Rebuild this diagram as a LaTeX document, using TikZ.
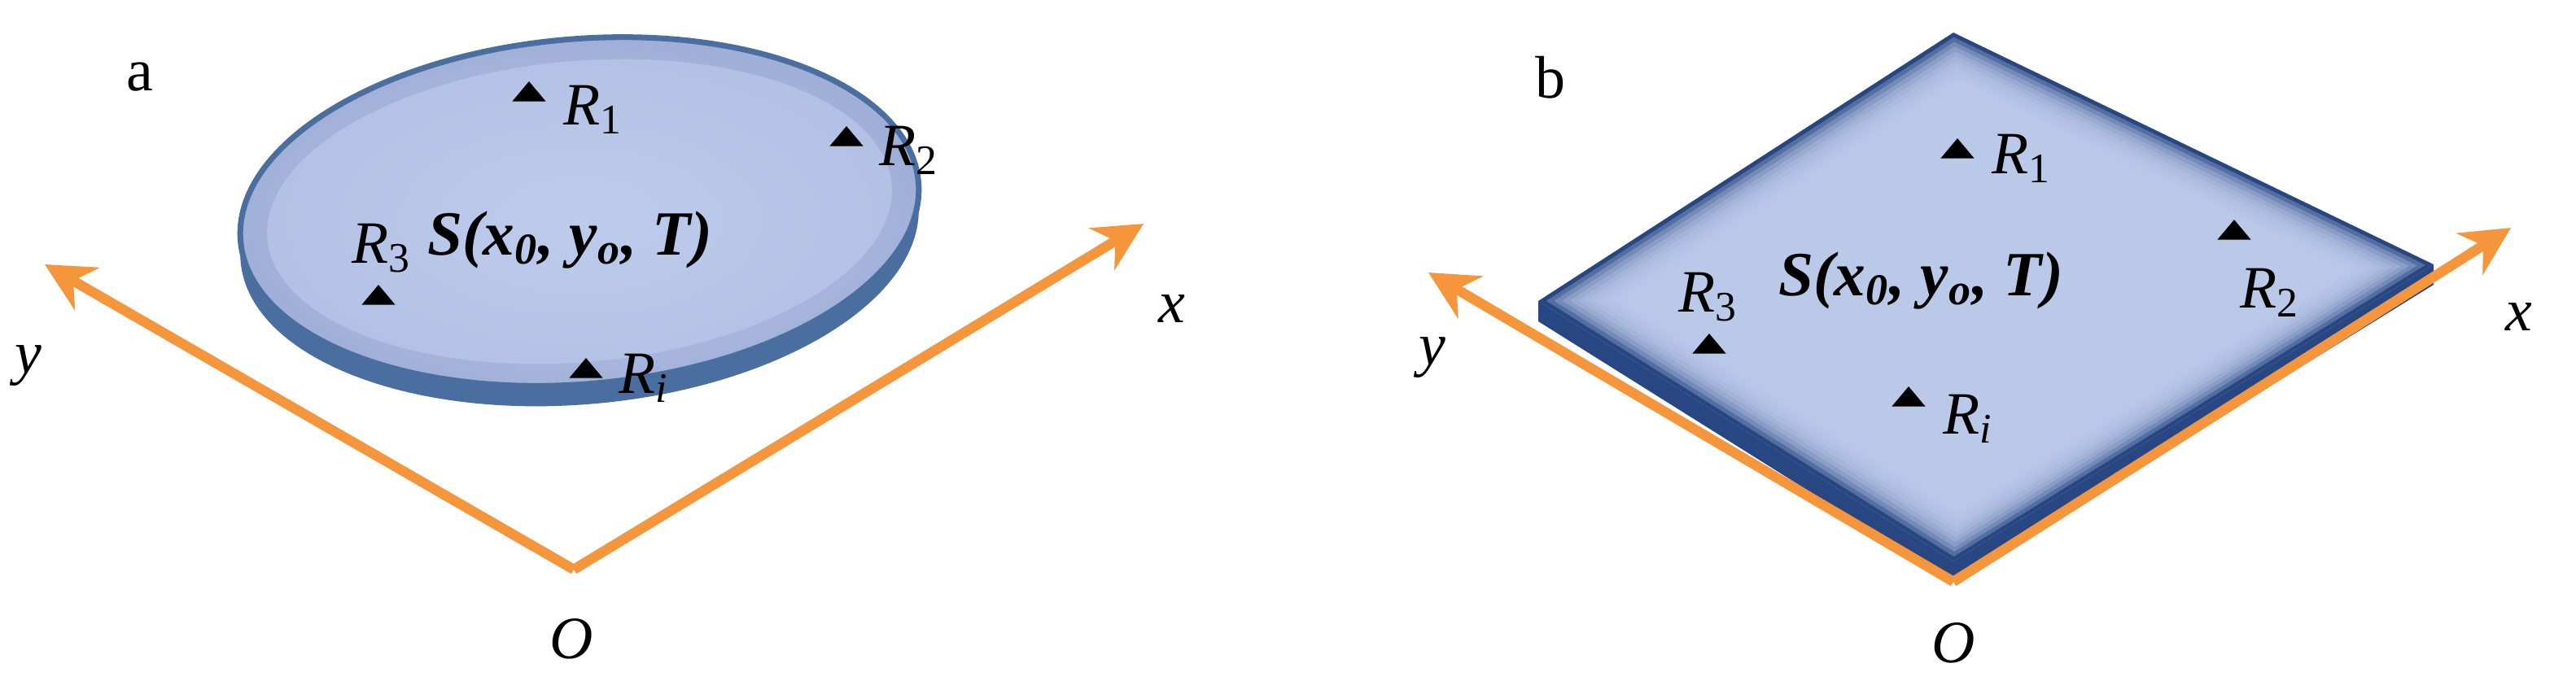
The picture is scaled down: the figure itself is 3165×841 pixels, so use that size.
\documentclass[tikz,border=0pt]{standalone}
\usepackage{fontspec}
\setmainfont{Liberation Serif}
\usetikzlibrary{arrows.meta,shapes.geometric,calc}
\begin{document}
\begin{tikzpicture}[x=0.01cm,y=-0.01cm,
  ax/.style={draw={rgb,255:red,245;green,150;blue,60},line width=3.5pt,-{Stealth[length=17pt,width=17pt]}},
  lab/.style={font=\fontsize{21}{21}\selectfont\itshape},
  tri/.style={fill=black,isosceles triangle,isosceles triangle apex angle=80,shape border rotate=90,minimum width=11pt,minimum height=7pt,inner sep=0pt},
  rl/.style={font=\fontsize{21}{21}\selectfont\itshape,anchor=west},
  sl/.style={font=\fontsize{22}{22}\selectfont\bfseries\itshape}]
\useasboundingbox (0,0) rectangle (3165,841);
\definecolor{face}{RGB}{190,204,236}
\definecolor{rim}{RGB}{75,110,160}
\definecolor{dark}{RGB}{40,70,130}
% ---- panel a
\coordinate (Oa) at (705,700);
\coordinate (ya) at (55,325);
\coordinate (xa) at (1405,275);
\draw[ax] (Oa) -- (ya);
\draw[ax] (Oa) -- (xa);
\fill[rim,rotate around={5:(712,285)}] (712,285) ellipse (418 and 212);
\shade[inner color=face,outer color={rgb,255:red,160;green,175;blue,215},rotate around={5:(712,260)},draw=rim,line width=2pt] (712,260) ellipse (418 and 212);
\fill[face,opacity=0.6,rotate around={5:(712,260)}] (712,260) ellipse (385 and 185);
\node[lab] (la) at (172,95) {\upshape a};
\node[lab] (lya) at (35,450) {y};
\node[lab] (lxa) at (1440,380) {x};
\node[lab] (loa) at (702,785) {O};
\node[tri] (t1a) at (650,115) {}; \node[rl] at (680,135) {R\textsubscript{\upshape 1}};
\node[tri] (t2a) at (1040,170) {}; \node[rl] at (1068,185) {R\textsubscript{\upshape 2}};
\node[tri] (t3a) at (465,365) {}; \node[rl] at (420,305) {R\textsubscript{\upshape 3}};
\node[tri] (tia) at (720,455) {}; \node[rl] at (748,465) {R\textsubscript{i}};
\node[sl] (sa) at (700,295) {S(x\textsubscript{0}, y\textsubscript{o}, T)};
% ---- panel b
\coordinate (Ob) at (2400,715);
\coordinate (yb) at (1755,335);
\coordinate (xb) at (3085,280);
\fill[dark] (1890,370) -- (2400,690) -- (2990,325) -- (2990,350) -- (2400,715) -- (1890,395) -- cycle;
\fill[dark] (2400,40) -- (2990,325) -- (2400,690) -- (1890,370) -- cycle;
\foreach \k in {1,...,12}{
  \pgfmathsetmacro\s{1-0.018*\k}
  \fill[face,opacity=0.3] ($(2430,360)+\s*(-30,-320)$) -- ($(2430,360)+\s*(560,-35)$) -- ($(2430,360)+\s*(-30,330)$) -- ($(2430,360)+\s*(-540,10)$) -- cycle;
}
\draw[ax] (Ob) -- (yb);
\draw[ax] (Ob) -- (xb);
\node[lab] (lb) at (1905,95) {\upshape b};
\node[lab] (lyb) at (1760,440) {y};
\node[lab] (lxb) at (3095,390) {x};
\node[lab] (lob) at (2400,790) {O};
\node[tri] (t1b) at (2405,185) {}; \node[rl] at (2435,195) {R\textsubscript{\upshape 1}};
\node[tri] (t2b) at (2745,285) {}; \node[rl] at (2740,360) {R\textsubscript{\upshape 2}};
\node[tri] (t3b) at (2100,425) {}; \node[rl] at (2050,365) {R\textsubscript{\upshape 3}};
\node[tri] (tib) at (2345,490) {}; \node[rl] at (2375,515) {R\textsubscript{i}};
\node[sl] (sb) at (2360,345) {S(x\textsubscript{0}, y\textsubscript{o}, T)};
\end{tikzpicture}
\end{document}
